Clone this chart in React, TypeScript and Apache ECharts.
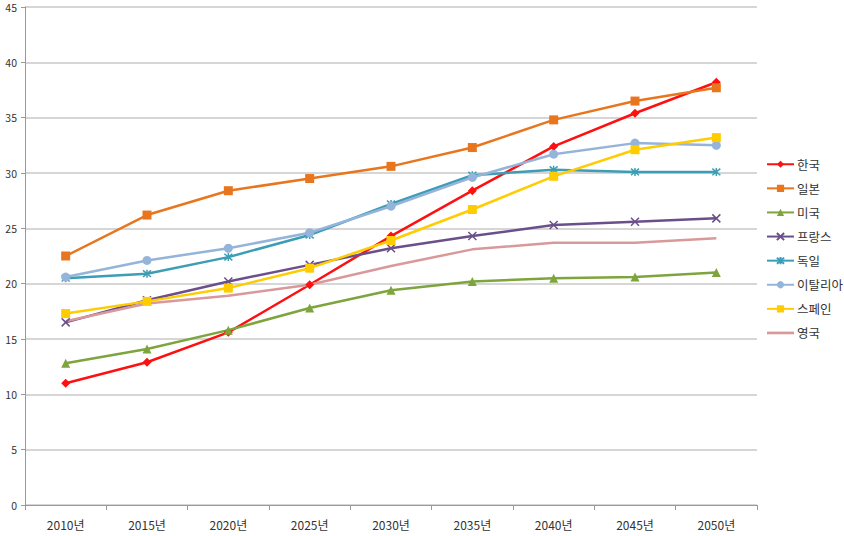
import React, { useEffect, useRef } from "react";
import * as echarts from "echarts";

const categories = ["2010년", "2015년", "2020년", "2025년", "2030년", "2035년", "2040년", "2045년", "2050년"];
const yTicks = { min: 0, max: 45, interval: 5 };

const korea = [11.0, 12.9, 15.6, 19.9, 24.3, 28.4, 32.4, 35.4, 38.2];
const japan = [22.5, 26.2, 28.4, 29.5, 30.6, 32.3, 34.8, 36.5, 37.7];
const usa = [12.8, 14.1, 15.8, 17.8, 19.4, 20.2, 20.5, 20.6, 21.0];
const france = [16.5, 18.5, 20.2, 21.7, 23.2, 24.3, 25.3, 25.6, 25.9];
const germany = [20.5, 20.9, 22.4, 24.4, 27.2, 29.8, 30.3, 30.1, 30.1];
const italy = [20.6, 22.1, 23.2, 24.6, 27.0, 29.6, 31.7, 32.7, 32.5];
const spain = [17.3, 18.4, 19.6, 21.4, 23.9, 26.7, 29.7, 32.1, 33.2];
const uk = [16.6, 18.2, 18.9, 19.9, 21.6, 23.1, 23.7, 23.7, 24.1];

const X_PATH = "path://M0,0L10,10M10,0L0,10";
const STAR_PATH = "path://M0,0L10,10M10,0L0,10M5,-1L5,11";
const LINE_ICON = "path://M0,0L30,0L30,3L0,3Z";

const seriesDefs = [
  { name: "한국", data: korea, color: "#FF1010", symbol: "diamond", size: 9 },
  { name: "일본", data: japan, color: "#E8761E", symbol: "rect", size: 9 },
  { name: "미국", data: usa, color: "#7EA53D", symbol: "triangle", size: 9 },
  { name: "프랑스", data: france, color: "#6A4F8A", symbol: X_PATH, size: 8, stroke: true },
  { name: "독일", data: germany, color: "#3C9DB5", symbol: STAR_PATH, size: 8, stroke: true },
  { name: "이탈리아", data: italy, color: "#95B4DA", symbol: "circle", size: 9 },
  { name: "스페인", data: spain, color: "#FFCC00", symbol: "rect", size: 9 },
  { name: "영국", data: uk, color: "#D9999A", symbol: "none", size: 0 },
];

export default function App() {
  const ref = useRef<HTMLDivElement>(null);
  useEffect(() => {
    document.body.style.margin = "0";
    document.body.style.overflow = "hidden";
    if (!ref.current) return;
    const chart = echarts.init(ref.current, null, { renderer: "svg" });
    const font = "'Noto Sans CJK KR', 'Noto Sans', sans-serif";
    chart.setOption({
      animation: false,
      backgroundColor: "#ffffff",
      grid: { left: 25, right: 87, top: 7, bottom: 31, containLabel: false },
      legend: {
        orient: "vertical",
        left: 761,
        top: 153,
        itemWidth: 27,
        itemHeight: 9,
        itemGap: 11.6,
        textStyle: { fontFamily: font, fontSize: 12.5, color: "#333", padding: [0, 0, 0, -2] },
        data: seriesDefs.map((s) =>
          s.symbol === "none" ? { name: s.name, icon: LINE_ICON } : { name: s.name }
        ),
      },
      xAxis: {
        type: "category",
        data: categories,
        boundaryGap: true,
        axisLine: { lineStyle: { color: "#9a9a9a", width: 1 } },
        axisTick: { show: true, length: 5, lineStyle: { color: "#9a9a9a" } },
        axisLabel: { fontFamily: font, fontSize: 12, color: "#333", margin: 13 },
        splitLine: { show: false },
      },
      yAxis: {
        type: "value",
        min: yTicks.min,
        max: yTicks.max,
        interval: yTicks.interval,
        axisLine: { show: true, lineStyle: { color: "#9a9a9a", width: 1 } },
        axisTick: { show: true, length: 4, lineStyle: { color: "#9a9a9a" } },
        axisLabel: { fontFamily: font, fontSize: 10.5, color: "#333", margin: 8 },
        splitLine: { show: true, lineStyle: { color: "#c8c8c8", width: 1.5 } },
      },
      series: seriesDefs.map((s) => ({
        name: s.name,
        type: "line",
        data: s.data,
        symbol: s.symbol,
        symbolSize: s.size,
        showSymbol: s.symbol !== "none",
        lineStyle: { color: s.color, width: 2.5 },
        itemStyle: s.stroke
          ? { color: s.color, borderColor: s.color, borderWidth: 1.5 }
          : { color: s.color, borderWidth: 0 },
        emphasis: { disabled: true },
      })),
    });
    return () => chart.dispose();
  }, []);
  return <div ref={ref} style={{ width: 844, height: 536 }} />;
}
